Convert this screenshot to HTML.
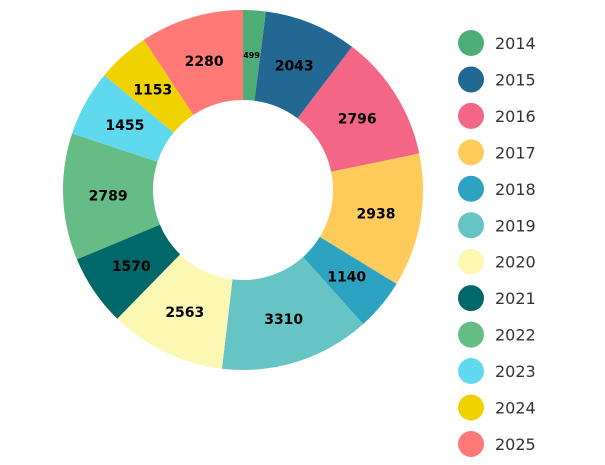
<!DOCTYPE html>
<html><head><meta charset="utf-8"><style>
html,body{margin:0;padding:0;background:#fff;width:605px;height:465px;overflow:hidden}
svg{display:block}
text{font-family:"DejaVu Sans","Liberation Sans",sans-serif}
</style></head><body>
<svg id="s" width="605" height="465" viewBox="0 0 605 465"></svg>
<script>
var d=[[2014,499,"#4fae78"],[2015,2043,"#236793"],[2016,2796,"#f46685"],[2017,2938,"#ffcc5c"],[2018,1140,"#2ba3c1"],[2019,3310,"#66c5c4"],[2020,2563,"#fbf8b3"],[2021,1570,"#006868"],[2022,2789,"#65bc85"],[2023,1455,"#5fd9ee"],[2024,1153,"#efd200"],[2025,2280,"#ff7a76"]];
var s=document.getElementById('s'),cx=243,cy=190,R=180,r=90,tot=0,h='';
d.forEach(function(e){tot+=e[1]});
var a=-Math.PI/2;
function p(rad,ang){return (cx+rad*Math.cos(ang)).toFixed(2)+','+(cy+rad*Math.sin(ang)).toFixed(2)}
d.forEach(function(e,i){
 var b=a+e[1]/tot*2*Math.PI,l=(b-a)>Math.PI?1:0;
 h+='<path d="M'+p(R,a)+'A'+R+','+R+' 0 '+l+' 1 '+p(R,b)+'L'+p(r,b)+'A'+r+','+r+' 0 '+l+' 0 '+p(r,a)+'Z" fill="'+e[2]+'"/>';
 var m=(a+b)/2,fs=e[1]<600?8:14;
 h+='<text x="'+(cx+135*Math.cos(m)).toFixed(1)+'" y="'+(cy+135*Math.sin(m)+fs*0.37).toFixed(1)+'" font-size="'+fs+'" font-weight="bold" text-anchor="middle" fill="#000">'+e[1]+'</text>';
 var ly=43+i*36.45;
 h+='<circle cx="471" cy="'+ly+'" r="13" fill="'+e[2]+'"/><text x="495" y="'+(ly+6)+'" font-size="16" fill="#333">'+e[0]+'</text>';
 a=b;
});
s.innerHTML=h;
</script>
</body></html>
